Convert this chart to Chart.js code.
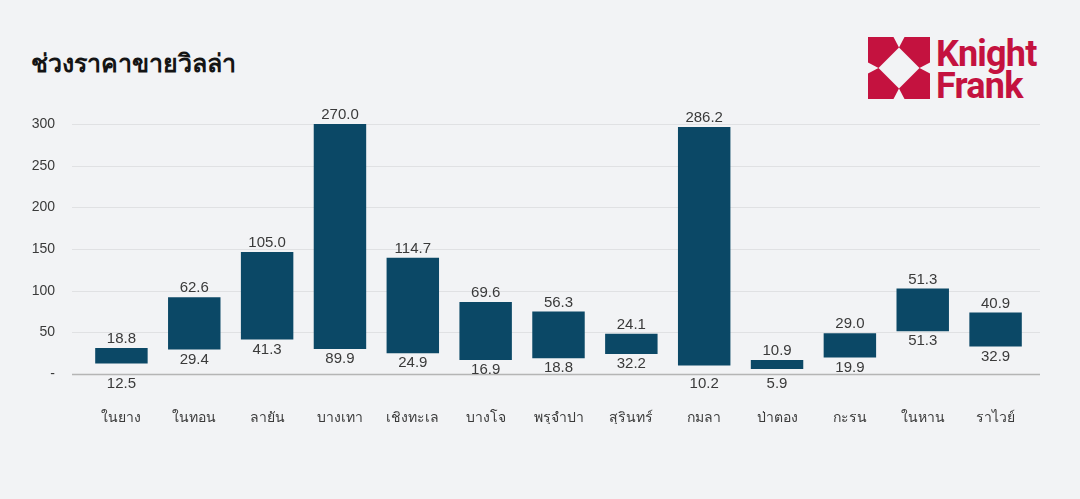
<!DOCTYPE html>
<html>
<head>
<meta charset="utf-8">
<script src="https://cdn.jsdelivr.net/npm/chart.js@4/dist/chart.umd.min.js"></script>
<style>
  html, body { margin: 0; padding: 0; background: #f2f3f5; }
  #wrap { position: relative; width: 1080px; height: 499px; overflow: hidden; }
  #title {
    position: absolute; left: 31px; top: 43px;
    font-family: "Noto Sans", "Open Sans", sans-serif; font-size: 25px; font-weight: 600;
    color: #141414;
  }
  #logo { position: absolute; left: 868px; top: 37px; }
  #logoText {
    position: absolute; left: 936px; top: 38px;
    font-family: Roboto, "Noto Sans", sans-serif; font-weight: 700; font-size: 36px;
    line-height: 32px; color: #c4123f; letter-spacing: -0.8px;
  }
  canvas { position: absolute; left: 0; top: 0; }
</style>
</head>
<body>
<div id="wrap">
  <div id="title">ช่วงราคาขายวิลล่า</div>
  <svg id="logo" width="62" height="62" viewBox="0 0 62 62">
    <rect x="0" y="0" width="62" height="62" fill="#c4123f"/>
    <polygon points="31,10.5 51.5,31 31,51.5 10.5,31" fill="#f2f3f5"/>
    <polygon points="25.5,0 36.5,0 31,10.5" fill="#f2f3f5"/>
    <polygon points="25.5,62 36.5,62 31,51.5" fill="#f2f3f5"/>
    <polygon points="0,25.5 0,36.5 10.5,31" fill="#f2f3f5"/>
    <polygon points="62,25.5 62,36.5 51.5,31" fill="#f2f3f5"/>
  </svg>
  <div id="logoText">Knight<br>Frank</div>
  <canvas id="chart" width="1080" height="499"></canvas>
</div>
<script>
// categories and values
const categories = ['ในยาง', 'ในทอน', 'ลายัน', 'บางเทา', 'เชิงทะเล', 'บางโจ', 'พรุจำปา',
                    'สุรินทร์', 'กมลา', 'ป่าตอง', 'กะรน', 'ในหาน', 'ราไวย์'];
// where each bar starts (as drawn) and how tall it is
const barBase  = [12.5, 29.4, 41.3, 30.0, 24.9, 16.9, 18.8, 24.1, 10.2, 5.9, 19.9, 51.3, 32.9];
const barRange = [18.8, 62.6, 105.0, 270.0, 114.7, 69.6, 56.3, 24.1, 286.2, 10.9, 29.0, 51.3, 40.9];
// the printed labels
const topLabels    = ['18.8', '62.6', '105.0', '270.0', '114.7', '69.6', '56.3', '24.1', '286.2', '10.9', '29.0', '51.3', '40.9'];
const bottomLabels = ['12.5', '29.4', '41.3', '89.9', '24.9', '16.9', '18.8', '32.2', '10.2', '5.9', '19.9', '51.3', '32.9'];
const yTicks = [0, 50, 100, 150, 200, 250, 300];

const BAR_COLOR = '#0b4866';
const TEXT_COLOR = '#3a3a3a';
const LABEL_FONT = '15px "Liberation Sans", Arial, sans-serif';

/**
 * Grid lines run a bit wider than the plot area, so draw them by hand.
 */
const gridPlugin = {
    id: 'wideGrid',
    beforeDatasetsDraw(chart) {
        const ctx = chart.ctx;
        const y = chart.scales.y;
        ctx.save();
        yTicks.forEach((v) => {
            const py = Math.round(y.getPixelForValue(v)) + 0.5;
            ctx.beginPath();
            ctx.strokeStyle = v === 0 ? '#b5b5b5' : '#e0e1e3';
            ctx.lineWidth = v === 0 ? 1.5 : 1;
            ctx.moveTo(72, py);
            ctx.lineTo(1040, py);
            ctx.stroke();
        });
        ctx.restore();
    }
};

/**
 * Value labels above and below each floating bar.
 */
const labelPlugin = {
    id: 'rangeLabels',
    afterDatasetsDraw(chart) {
        const ctx = chart.ctx;
        const meta = chart.getDatasetMeta(1);
        const axisY = chart.scales.y.getPixelForValue(0);
        ctx.save();
        ctx.font = LABEL_FONT;
        ctx.fillStyle = TEXT_COLOR;
        ctx.textAlign = 'center';
        ctx.textBaseline = 'middle';
        meta.data.forEach((bar, i) => {
            ctx.fillText(topLabels[i], bar.x, bar.y - 9);
            let by = bar.base + 10;
            // bars sitting close to the axis get their label under it
            if (bar.base > axisY - 12) {
                by = axisY + 10;
            }
            ctx.fillText(bottomLabels[i], bar.x, by);
        });
        ctx.restore();
    }
};

new Chart(document.getElementById('chart'), {
    type: 'bar',
    data: {
        labels: categories,
        datasets: [
            {data: barBase, backgroundColor: 'rgba(0,0,0,0)', barPercentage: 0.72, categoryPercentage: 1},
            {data: barRange, backgroundColor: BAR_COLOR, barPercentage: 0.72, categoryPercentage: 1}
        ]
    },
    options: {
        responsive: false,
        animation: false,
        layout: {padding: {top: 124, right: 48, bottom: 75, left: 0}},
        plugins: {legend: {display: false}, tooltip: {enabled: false}},
        scales: {
            x: {
                stacked: true,
                grid: {display: false, drawTicks: false},
                border: {display: false},
                ticks: {
                    padding: 36,
                    color: TEXT_COLOR,
                    font: {size: 14, family: '"Noto Sans", "Liberation Sans", sans-serif'}
                },
                afterFit(scale) { scale.height = 50; }
            },
            y: {
                stacked: true,
                min: 0,
                max: 300,
                grid: {display: false, drawTicks: false},
                border: {display: false},
                ticks: {
                    stepSize: 50,
                    padding: 30,
                    color: TEXT_COLOR,
                    font: {size: 14, family: '"Liberation Sans", Arial, sans-serif'},
                    callback: (v) => v === 0 ? '-' : v
                },
                afterFit(scale) { scale.width = 85; }
            }
        }
    },
    plugins: [gridPlugin, labelPlugin]
});
</script>
</body>
</html>
